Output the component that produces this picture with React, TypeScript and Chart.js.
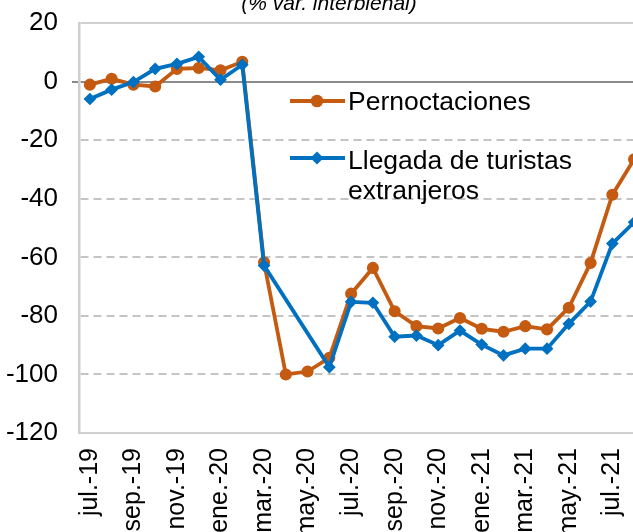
import React, { useEffect, useRef } from 'react';
import { Chart, registerables } from 'chart.js';

Chart.register(...registerables);

// ---- data ----
const months = [
  'jul.-19', 'ago.-19', 'sep.-19', 'oct.-19', 'nov.-19', 'dic.-19',
  'ene.-20', 'feb.-20', 'mar.-20', 'abr.-20', 'may.-20', 'jun.-20',
  'jul.-20', 'ago.-20', 'sep.-20', 'oct.-20', 'nov.-20', 'dic.-20',
  'ene.-21', 'feb.-21', 'mar.-21', 'abr.-21', 'may.-21', 'jun.-21',
  'jul.-21', 'ago.-21',
];

const pernoctaciones = [
  -1, 1, -1, -1.6, 4.4, 4.7,
  3.9, 6.8, -61.7, -100, -99, -94.3,
  -72.4, -63.6, -78.4, -83.5, -84.3, -80.7,
  -84.4, -85.4, -83.5, -84.6, -77.2, -61.9,
  -38.6, -26.5,
];

const llegadas = [
  -5.9, -2.7, -0.1, 4.4, 6.1, 8.5,
  0.7, 5.8, -62.8, null, null, -97.5,
  -75.2, -75.5, -87.1, -86.7, -90, -85,
  -89.8, -93.5, -91.2, -91.2, -82.7, -75.1,
  -55.3, -48,
];

const seriesNames = ['Pernoctaciones', 'Llegada de turistas extranjeros'];
const titleText = '(% var. interbienal)';
const yMin = -120;
const yMax = 20;
const yStep = 20;

// ---- style ----
const ORANGE = '#C55A11';
const BLUE = '#0070C0';
const FONT = '"Liberation Sans", Arial, sans-serif';
const OFFSET_Y = 30; // canvas is shifted up so the title is clipped like the reference

function wrapText(ctx: CanvasRenderingContext2D, text: string, maxWidth: number): string[] {
  const words = text.split(' ');
  const lines: string[] = [];
  let cur = '';
  for (const w of words) {
    const test = cur ? cur + ' ' + w : w;
    if (ctx.measureText(test).width > maxWidth && cur) {
      lines.push(cur);
      cur = w;
    } else {
      cur = test;
    }
  }
  if (cur) lines.push(cur);
  return lines;
}

const inlineLegend = {
  id: 'inlineLegend',
  afterDatasetsDraw(chart: any) {
    const ctx: CanvasRenderingContext2D = chart.ctx;
    const entries = [
      { ds: 0, lineY: 101, baseY: 109.5 },
      { ds: 1, lineY: 158, baseY: 168.5 },
    ];
    ctx.save();
    ctx.font = `26.5px ${FONT}`;
    ctx.textAlign = 'left';
    ctx.textBaseline = 'alphabetic';
    for (const e of entries) {
      const dataset = chart.data.datasets[e.ds];
      const color = dataset.borderColor;
      const ly = e.lineY + OFFSET_Y;
      ctx.strokeStyle = color;
      ctx.fillStyle = color;
      ctx.lineWidth = 3.8;
      ctx.beginPath();
      ctx.moveTo(290, ly);
      ctx.lineTo(345, ly);
      ctx.stroke();
      const mx = 317;
      ctx.beginPath();
      if (dataset.pointStyle === 'rectRot') {
        const r = 6.5;
        ctx.moveTo(mx, ly - r);
        ctx.lineTo(mx + r, ly);
        ctx.lineTo(mx, ly + r);
        ctx.lineTo(mx - r, ly);
        ctx.closePath();
      } else {
        ctx.arc(mx, ly, 6.3, 0, Math.PI * 2);
      }
      ctx.fill();
      ctx.fillStyle = '#000';
      const lines = wrapText(ctx, dataset.label, 245);
      lines.forEach((t, i) => {
        ctx.fillText(t, 348, e.baseY + OFFSET_Y + i * 30);
      });
    }
    ctx.restore();
  },
};

function isSolidLine(v: number) {
  return v === 0 || v === yMax || v === yMin;
}

export default function App() {
  const ref = useRef<HTMLCanvasElement | null>(null);

  useEffect(() => {
    const canvas = ref.current;
    if (!canvas) return;
    const chart = new Chart(canvas, {
      type: 'line',
      data: {
        labels: months,
        datasets: [
          {
            label: seriesNames[0],
            data: pernoctaciones,
            borderColor: ORANGE,
            backgroundColor: ORANGE,
            borderWidth: 3.8,
            pointStyle: 'circle',
            pointRadius: 5.3,
            pointBorderWidth: 1.5,
            pointBackgroundColor: ORANGE,
            pointBorderColor: ORANGE,
            tension: 0,
            order: 2,
          },
          {
            label: seriesNames[1],
            data: llegadas,
            borderColor: BLUE,
            backgroundColor: BLUE,
            borderWidth: 3.8,
            pointStyle: 'rectRot',
            pointRadius: 5.3,
            pointBorderWidth: 1.5,
            pointBackgroundColor: BLUE,
            pointBorderColor: BLUE,
            spanGaps: true,
            tension: 0,
            order: 1,
          },
        ],
      },
      options: {
        responsive: false,
        animation: false,
        devicePixelRatio: 1,
        layout: { padding: 0 },
        plugins: {
          legend: { display: false },
          tooltip: { enabled: false },
          title: {
            display: true,
            text: titleText,
            color: '#000',
            font: { family: FONT, size: 21, style: 'italic', weight: 'normal' },
            padding: { top: 21.5, bottom: 6.5 },
          },
        },
        scales: {
          x: {
            type: 'category',
            offset: true,
            grid: { display: false, drawTicks: false },
            border: { display: true, color: '#d0d0d0', width: 2 },
            ticks: {
              autoSkip: false,
              minRotation: 90,
              maxRotation: 90,
              padding: 15,
              color: '#000',
              font: { family: FONT, size: 25 },
              callback: (_v: any, i: number) => (i % 2 === 0 ? months[i] : ''),
            },
            afterFit: (s: any) => {
              s.height = 99;
              s.paddingLeft = 0;
              s.paddingRight = 13;
            },
          },
          y: {
            min: yMin,
            max: yMax,
            ticks: {
              stepSize: yStep,
              padding: 14,
              color: '#000',
              font: { family: FONT, size: 26 },
            },
            grid: {
              color: (c: any) => {
                const v = c.tick ? c.tick.value : null;
                if (v === 0) return '#8a8a8a';
                if (v === yMax || v === yMin) return '#d0d0d0';
                return '#c4c4c4';
              },
              lineWidth: 2,
              tickLength: 7,
              tickWidth: 2,
              tickColor: (c: any) => (c.tick && c.tick.value === 0 ? '#8a8a8a' : 'rgba(0,0,0,0)'),
            },
            border: {
              display: true,
              color: '#cfcfcf',
              width: 2.5,
              dash: (c: any) => (c.tick && !isSolidLine(c.tick.value) ? [8, 5] : []),
            },
            afterFit: (s: any) => {
              s.width = 79;
              s.paddingTop = 0;
              s.paddingBottom = 0;
            },
          },
        },
      } as any,
      plugins: [inlineLegend],
    });
    return () => chart.destroy();
  }, []);

  return (
    <div
      style={{
        position: 'fixed',
        left: 0,
        top: 0,
        width: 633,
        height: 532,
        overflow: 'hidden',
        background: '#fff',
      }}
    >
      <canvas
        ref={ref}
        width={658}
        height={532 + OFFSET_Y}
        style={{ position: 'absolute', left: 0, top: -OFFSET_Y, width: 658, height: 532 + OFFSET_Y }}
      />
    </div>
  );
}
